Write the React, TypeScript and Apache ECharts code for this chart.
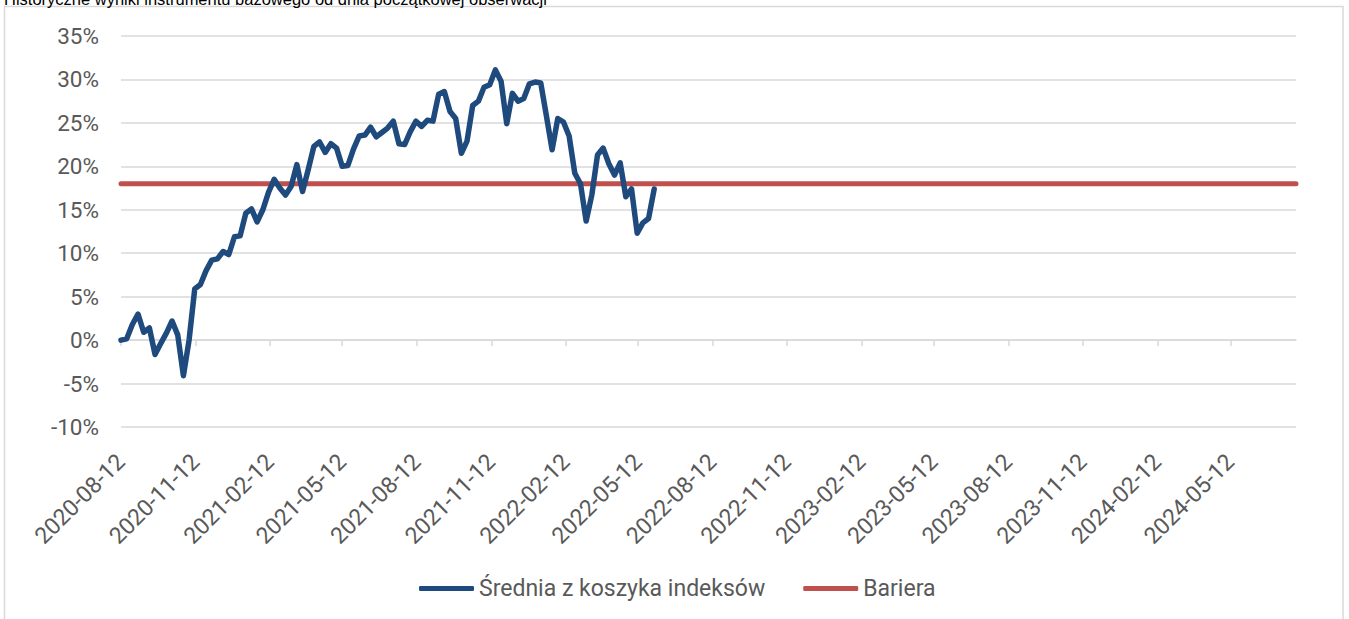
import React, { useEffect, useRef } from "react";
import * as echarts from "echarts";

const TITLE = "Historyczne wyniki instrumentu bazowego od dnia początkowej obserwacji";
const SERIES_BASKET = "Średnia z koszyka indeksów";
const SERIES_BARRIER = "Bariera";

// weekly observations starting 2020-08-12
const startDate = "2020-08-12";
const endDate = "2024-08-01";
const basketValues = [
  0.0, 0.15, 1.8, 3.0, 0.9, 1.4, -1.65, -0.4, 0.8, 2.2,
  0.6, -4.1, 0.0, 5.9, 6.4, 8.0, 9.2, 9.35, 10.2, 9.85,
  11.9, 12.0, 14.6, 15.1, 13.6, 15.0, 17.0, 18.5, 17.5, 16.7,
  17.7, 20.2, 17.1, 19.6, 22.3, 22.8, 21.6, 22.6, 22.1, 20.0,
  20.1, 22.0, 23.5, 23.6, 24.5, 23.4, 23.9, 24.4, 25.2, 22.6,
  22.5, 24.0, 25.2, 24.6, 25.3, 25.2, 28.3, 28.6, 26.3, 25.5,
  21.5, 22.9, 27.0, 27.5, 29.1, 29.4, 31.1, 29.8, 24.9, 28.4,
  27.5, 27.8, 29.5, 29.7, 29.6, 25.8, 21.9, 25.5, 25.1, 23.5,
  19.2, 18.0, 13.7, 16.7, 21.3, 22.1, 20.3, 19.0, 20.4, 16.5,
  17.4, 12.3, 13.5, 14.0, 17.4,
];
const barrierValue = 18;
const xTickLabels = [
  "2020-08-12", "2020-11-12", "2021-02-12", "2021-05-12",
  "2021-08-12", "2021-11-12", "2022-02-12", "2022-05-12",
  "2022-08-12", "2022-11-12", "2023-02-12", "2023-05-12",
  "2023-08-12", "2023-11-12", "2024-02-12", "2024-05-12",
];
const yMin = -10;
const yMax = 35;
const yStep = 5;

const DAY = 86400000;
const toTs = (s: string) => {
  const [y, m, d] = s.split("-").map(Number);
  return Date.UTC(y, m - 1, d);
};
const toDay = (s: string) => Math.round((toTs(s) - toTs(startDate)) / DAY);
const pad = (n: number) => (n < 10 ? "0" + n : "" + n);
const fmtDay = (day: number) => {
  const d = new Date(toTs(startDate) + Math.round(day) * DAY);
  return d.getUTCFullYear() + "-" + pad(d.getUTCMonth() + 1) + "-" + pad(d.getUTCDate());
};

export default function App() {
  const ref = useRef<HTMLDivElement>(null);
  useEffect(() => {
    if (!ref.current) return;
    const chart = echarts.init(ref.current, undefined, { renderer: "svg" });
    const endDay = toDay(endDate);
    const basketData = basketValues.map((v, i) => [i * 7, v]);
    const barrierData = [
      [0, barrierValue],
      [endDay, barrierValue],
    ];
    const tickDays = xTickLabels.map(toDay);
    const font = "Roboto";
    const grey = "#595959";
    const gridColor = "#d9d9d9";

    chart.setOption({
      animation: false,
      backgroundColor: "#ffffff",
      textStyle: { fontFamily: font },
      graphic: [
        {
          type: "rect",
          shape: { x: 4.5, y: 6.5, width: 1338.5, height: 700 },
          style: { fill: "none", stroke: gridColor, lineWidth: 1.5 },
          silent: true,
        },
        {
          type: "text",
          x: 4,
          y: 7,
          style: {
            text: TITLE,
            fill: "#000000",
            font: "16.5px 'Liberation Sans', Arial, sans-serif",
            verticalAlign: "bottom",
          },
          silent: true,
        },
      ],
      grid: { left: 121, right: 53, top: 36, bottom: 192, containLabel: false },
      legend: {
        data: [SERIES_BASKET, SERIES_BARRIER],
        left: 414,
        top: 572,
        icon: "roundRect",
        itemWidth: 55,
        itemHeight: 5,
        itemGap: 38,
        textStyle: { fontFamily: font, fontSize: 23, color: grey },
      },
      xAxis: [
        {
          type: "value",
          min: 0,
          max: endDay,
          position: "bottom",
          axisLine: { show: false, onZero: false },
          axisTick: { show: false },
          splitLine: { show: false },
          axisLabel: {
            customValues: tickDays,
            rotate: 45,
            margin: 31,
            fontSize: 23,
            fontFamily: font,
            color: grey,
            hideOverlap: false,
            formatter: (v: number) => fmtDay(v),
          },
        },
        {
          type: "value",
          min: 0,
          max: endDay,
          position: "bottom",
          axisLine: { show: true, onZero: true, lineStyle: { color: gridColor, width: 1.5 } },
          axisTick: {
            show: true,
            customValues: tickDays,
            length: 6,
            lineStyle: { color: gridColor, width: 1.5 },
          },
          axisLabel: { show: false },
          splitLine: { show: false },
        },
      ],
      yAxis: {
        type: "value",
        min: yMin,
        max: yMax,
        interval: yStep,
        axisLine: { show: false },
        axisTick: { show: false },
        splitLine: { show: true, lineStyle: { color: gridColor, width: 1.5 } },
        axisLabel: {
          margin: 22,
          fontSize: 22.5,
          fontFamily: font,
          color: grey,
          formatter: "{value}%",
        },
      },
      series: [
        {
          name: SERIES_BASKET,
          type: "line",
          xAxisIndex: 0,
          data: basketData,
          symbol: "none",
          color: "#1f4a7d",
          lineStyle: { color: "#1f4a7d", width: 5.5, cap: "round", join: "round" },
          z: 3,
        },
        {
          name: SERIES_BARRIER,
          type: "line",
          xAxisIndex: 0,
          data: barrierData,
          symbol: "none",
          color: "#c0504d",
          lineStyle: { color: "#c0504d", width: 5, cap: "round" },
          z: 2,
        },
      ],
    });
    return () => chart.dispose();
  }, []);
  return (
    <div
      ref={ref}
      style={{ position: "absolute", left: 0, top: 0, width: 1349, height: 619 }}
    />
  );
}
